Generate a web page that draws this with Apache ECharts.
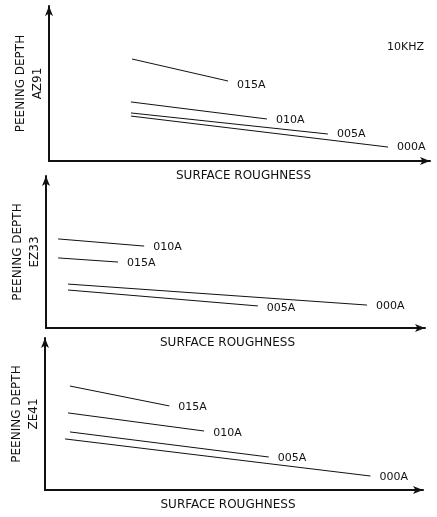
<!DOCTYPE html>
<html>
<head>
<meta charset="utf-8">
<script src="https://cdn.jsdelivr.net/npm/echarts@6/dist/echarts.min.js"></script>
<style>
  html, body { margin: 0; padding: 0; background: #fff; }
  #main { width: 437px; height: 517px; }
</style>
</head>
<body>
<div id="main"></div>
<script>
  // 数据 (坐标轴 0-100, 无刻度)
  var panelNames = ['AZ91', 'EZ33', 'ZE41'];
  var freqLabel = '10KHZ';

  var az91Series = ['015A', '010A', '005A', '000A'];
  var az91X = [[21.8, 47.0], [21.5, 57.2], [21.5, 73.2], [21.5, 89.0]];
  var az91Y = [[65.8, 51.6], [38.1, 27.1], [31.0, 17.4], [29.0, 9.0]];

  var ez33Series = ['010A', '015A', '000A', '005A'];
  var ez33X = [[3.2, 25.9], [3.2, 19.0], [5.8, 84.7], [5.8, 55.9]];
  var ez33Y = [[58.6, 53.9], [46.1, 43.4], [28.9, 15.1], [25.0, 14.5]];

  var ze41Series = ['015A', '010A', '005A', '000A'];
  var ze41X = [[6.6, 32.9], [6.1, 42.1], [6.6, 59.2], [5.3, 86.1]];
  var ze41Y = [[68.4, 55.3], [50.7, 38.8], [38.2, 21.7], [33.6, 9.2]];

  var panelSeries = [az91Series, ez33Series, ze41Series];
  var panelX = [az91X, ez33X, ze41X];
  var panelY = [az91Y, ez33Y, ze41Y];

  // 布局
  var grids = [
    { left: 49, top: 6, width: 381, height: 155 },
    { left: 46, top: 176, width: 379, height: 152 },
    { left: 43, top: 338, width: 380, height: 152 }
  ];
  var xNamePad = [[0, 0, 0, 8], [0, 16, 0, 0], [0, 12, 0, 0]];
  var labelOffsets = [
    [[0, 4], [0, 1], [0, 0], [0, 0]],
    [[0, 1], [0, 1], [0, 1], [0, 2]],
    [[0, 1], [0, 2], [0, 1], [0, 1]]
  ];

  var ink = '#111';
  var font = 'DejaVu Sans';

  var chart = echarts.init(document.getElementById('main'));

  var xAxes = [], yAxes = [], series = [];
  panelNames.forEach(function (name, p) {
    var axisLine = {
      show: true,
      symbol: ['none', 'arrow'],
      symbolSize: [6, 10],
      lineStyle: { color: ink, width: 2 }
    };
    xAxes.push({
      gridIndex: p, type: 'value', min: 0, max: 100,
      name: 'SURFACE ROUGHNESS',
      nameLocation: 'middle',
      nameGap: 9,
      nameTextStyle: { fontFamily: font, fontSize: 12, color: ink, padding: xNamePad[p] },
      axisLine: axisLine,
      axisTick: { show: false }, axisLabel: { show: false }, splitLine: { show: false }
    });
    yAxes.push({
      gridIndex: p, type: 'value', min: 0, max: 100,
      name: 'PEENING DEPTH\n' + name,
      nameLocation: 'middle',
      nameGap: 3,
      nameTextStyle: { fontFamily: font, fontSize: 12, color: ink, lineHeight: 17, align: 'center' },
      axisLine: axisLine,
      axisTick: { show: false }, axisLabel: { show: false }, splitLine: { show: false }
    });
    panelSeries[p].forEach(function (sName, i) {
      series.push({
        name: sName,
        type: 'line',
        xAxisIndex: p, yAxisIndex: p,
        showSymbol: false,
        silent: true,
        lineStyle: { color: ink, width: 1 },
        data: [
          [panelX[p][i][0], panelY[p][i][0]],
          [panelX[p][i][1], panelY[p][i][1]]
        ],
        endLabel: {
          show: true,
          formatter: '{a}',
          distance: 9,
          offset: labelOffsets[p][i],
          fontFamily: font,
          fontSize: 11,
          color: ink
        }
      });
    });
  });

  var option = {
    backgroundColor: '#fff',
    animation: false,
    title: {
      text: freqLabel,
      left: 382, top: 37,
      textStyle: { fontFamily: font, fontSize: 11, fontWeight: 'normal', color: ink }
    },
    grid: grids,
    xAxis: xAxes,
    yAxis: yAxes,
    series: series
  };

  chart.setOption(option);
</script>
</body>
</html>
